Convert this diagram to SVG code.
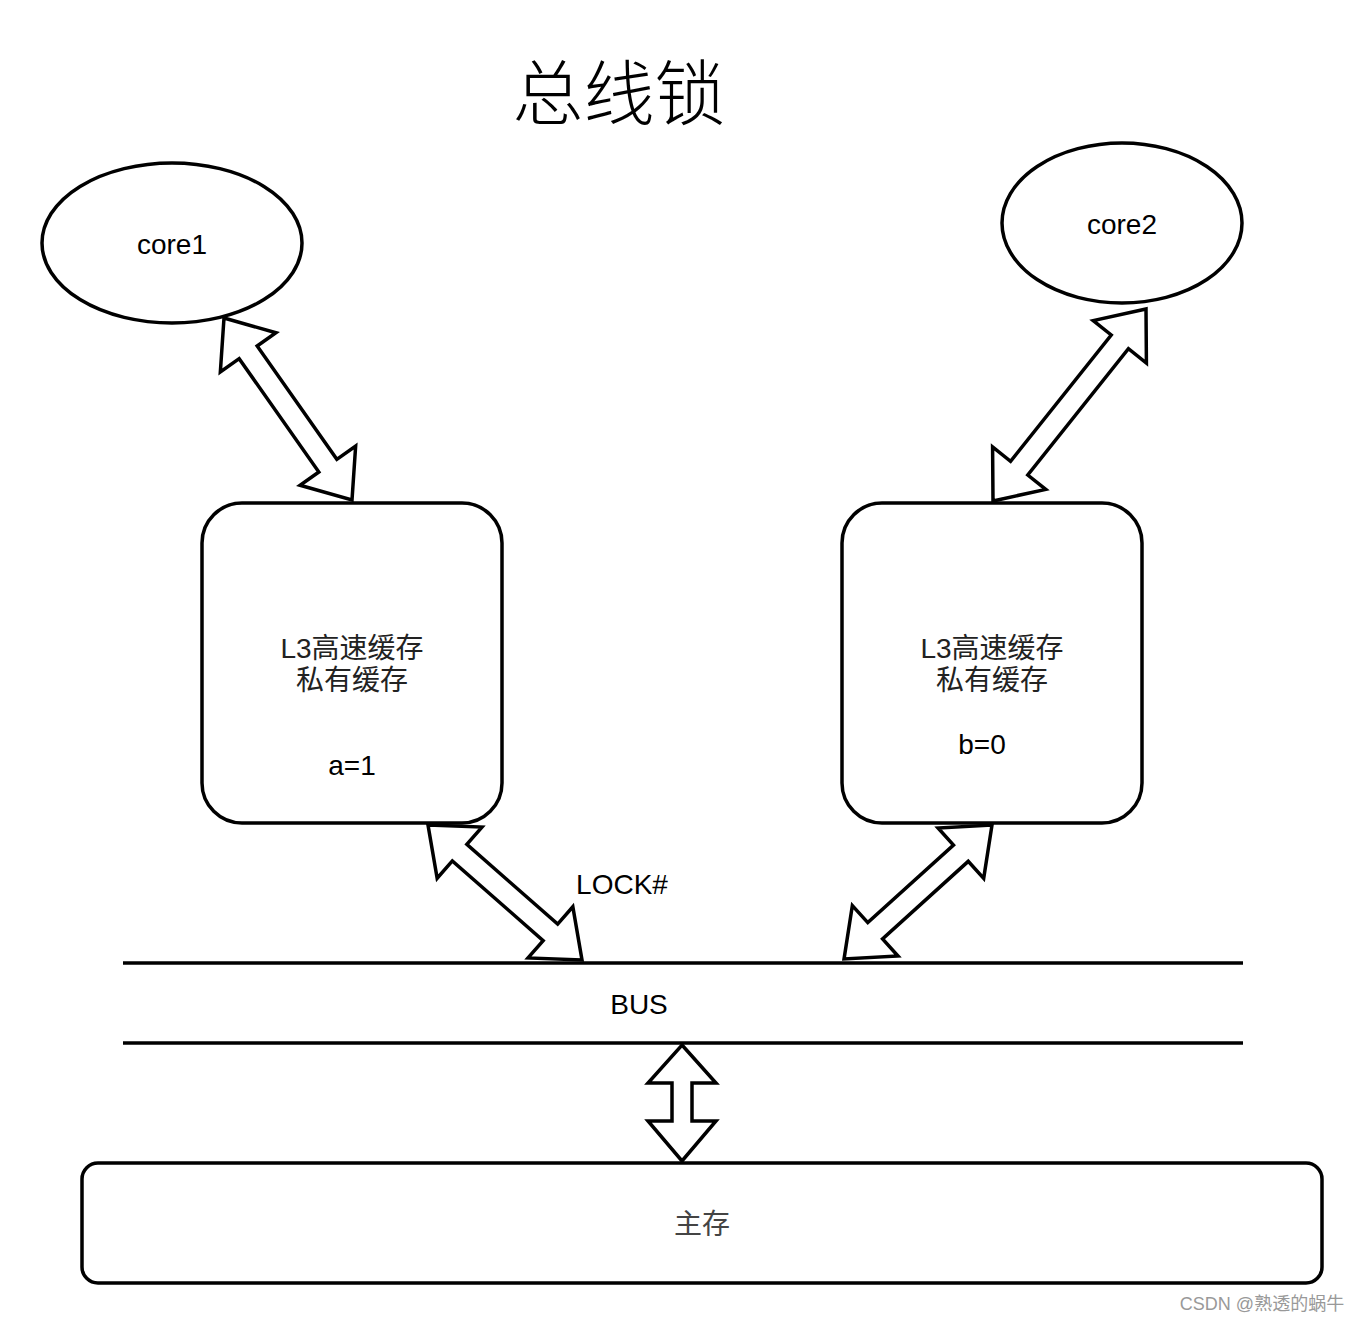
<svg xmlns="http://www.w3.org/2000/svg" width="1364" height="1324" viewBox="0 0 1364 1324">
<style>
.shape{fill:#fff;stroke:#000;stroke-width:3.5}
.arr{fill:#fff;stroke:#000;stroke-width:3.5;stroke-linejoin:miter}
.line{stroke:#000;stroke-width:3.5}
.t{font-family:"Liberation Sans","Noto Sans CJK SC",sans-serif;font-size:28px;fill:#000;text-anchor:middle;dominant-baseline:central}
.c{font-family:"Liberation Sans","Noto Sans CJK SC",sans-serif;font-size:28px;fill:#222;text-anchor:middle;dominant-baseline:central}
</style>
<rect width="1364" height="1324" fill="#fff"/>
<text x="619" y="88" font-family="'Noto Sans CJK SC',sans-serif" font-size="71" font-weight="300" text-anchor="middle" dominant-baseline="central">总线锁</text>
<g id="core1">
<ellipse class="shape" cx="172" cy="243" rx="130" ry="80"/>
<text class="t" x="172" y="244">core1</text>
</g>
<g id="core2">
<ellipse class="shape" cx="1122" cy="223" rx="120" ry="80"/>
<text class="t" x="1122" y="224">core2</text>
</g>
<g id="cache1">
<rect class="shape" x="202" y="503" width="300" height="320" rx="40"/>
<text class="c" x="352" y="648">L3高速缓存</text>
<text class="c" x="352" y="680">私有缓存</text>
<text class="t" x="352" y="765">a=1</text>
</g>
<g id="cache2">
<rect class="shape" x="842" y="503" width="300" height="320" rx="40"/>
<text class="c" x="992" y="648">L3高速缓存</text>
<text class="c" x="992" y="680">私有缓存</text>
<text class="t" x="982" y="744">b=0</text>
</g>
<g id="memory">
<rect class="shape" x="82" y="1163" width="1240" height="120" rx="16"/>
<text class="c" x="702" y="1224" style="fill:#444">主存</text>
</g>
<g id="bus">
<line class="line" x1="123" y1="963" x2="1243" y2="963"/>
<line class="line" x1="123" y1="1043" x2="1243" y2="1043"/>
<text class="t" x="639" y="1004">BUS</text>
</g>
<g id="connectors">
<polygon class="arr" transform="translate(224,318) rotate(54.88)" points="0,0 42,-34 42,-11 180.5,-11 180.5,-34 222.5,0 180.5,34 180.5,11 42,11 42,34"/>
<polygon class="arr" transform="translate(1146,309) rotate(128.55)" points="0,0 42,-34 42,-11 203.5,-11 203.5,-34 245.5,0 203.5,34 203.5,11 42,11 42,34"/>
<polygon class="arr" transform="translate(428,825) rotate(41.24)" points="0,0 42,-34 42,-11 162.8,-11 162.8,-34 204.8,0 162.8,34 162.8,11 42,11 42,34"/>
<polygon class="arr" transform="translate(992,825) rotate(137.84)" points="0,0 42,-34 42,-11 157.6,-11 157.6,-34 199.6,0 157.6,34 157.6,11 42,11 42,34"/>
<polygon class="arr" points="682,1045 716,1083 692,1083 692,1121 716,1121 682,1161 648,1121 672,1121 672,1083 648,1083"/>
<text class="t" x="622" y="884">LOCK#</text>
</g>
<text x="1262" y="1304" font-family="'Liberation Sans','Noto Sans CJK SC',sans-serif" font-size="18" fill="#999" text-anchor="middle" dominant-baseline="central">CSDN @熟透的蜗牛</text>
</svg>
